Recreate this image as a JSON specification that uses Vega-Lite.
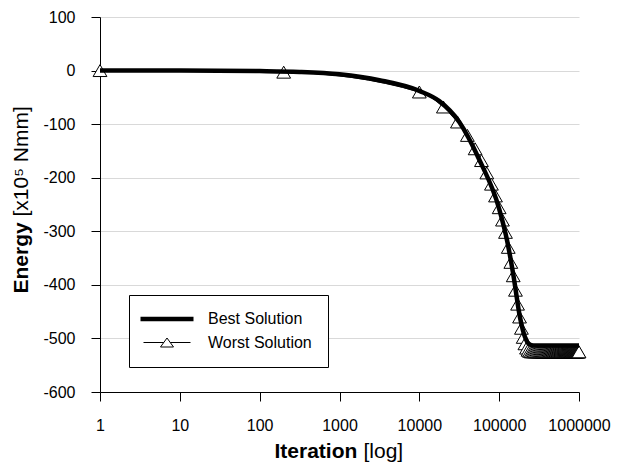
{
  "$schema": "https://vega.github.io/schema/vega-lite/v6.json",
  "width": 479,
  "height": 375,
  "autosize": "none",
  "padding": {"left": 100, "top": 17, "right": 43, "bottom": 72},
  "background": "white",
  "config": {
    "view": {"stroke": null},
    "font": "Liberation Sans",
    "axis": {"labelFont": "Liberation Sans", "titleFont": "Liberation Sans", "labelColor": "black", "titleColor": "black", "domainColor": "black", "tickColor": "black"}
  },
  "datasets": {
    "best": [
      {"it": 1, "energy": 0, "series": "Best Solution"},
      {"it": 10, "energy": 0, "series": "Best Solution"},
      {"it": 100, "energy": -1, "series": "Best Solution"},
      {"it": 316, "energy": -2.5, "series": "Best Solution"},
      {"it": 1000, "energy": -7, "series": "Best Solution"},
      {"it": 3162, "energy": -18, "series": "Best Solution"},
      {"it": 10000, "energy": -38, "series": "Best Solution"},
      {"it": 17783, "energy": -57, "series": "Best Solution"},
      {"it": 31623, "energy": -96, "series": "Best Solution"},
      {"it": 56234, "energy": -166, "series": "Best Solution"},
      {"it": 100000, "energy": -258, "series": "Best Solution"},
      {"it": 126000, "energy": -318, "series": "Best Solution"},
      {"it": 150000, "energy": -380, "series": "Best Solution"},
      {"it": 183000, "energy": -462, "series": "Best Solution"},
      {"it": 210000, "energy": -497, "series": "Best Solution"},
      {"it": 235000, "energy": -510, "series": "Best Solution"},
      {"it": 270000, "energy": -513, "series": "Best Solution"},
      {"it": 1000000, "energy": -513, "series": "Best Solution"}
    ],
    "worst": [
      {"it": 1, "energy": 0, "series": "Worst Solution"},
      {"it": 200, "energy": -3, "series": "Worst Solution"},
      {"it": 10000, "energy": -40, "series": "Worst Solution"},
      {"it": 20000, "energy": -68, "series": "Worst Solution"},
      {"it": 30000, "energy": -96, "series": "Worst Solution"},
      {"it": 40000, "energy": -121, "series": "Worst Solution"},
      {"it": 50000, "energy": -146, "series": "Worst Solution"},
      {"it": 60000, "energy": -168, "series": "Worst Solution"},
      {"it": 70000, "energy": -191, "series": "Worst Solution"},
      {"it": 80000, "energy": -212, "series": "Worst Solution"},
      {"it": 90000, "energy": -234, "series": "Worst Solution"},
      {"it": 100000, "energy": -256, "series": "Worst Solution"},
      {"it": 110000, "energy": -279, "series": "Worst Solution"},
      {"it": 120000, "energy": -302, "series": "Worst Solution"},
      {"it": 130000, "energy": -330, "series": "Worst Solution"},
      {"it": 140000, "energy": -358, "series": "Worst Solution"},
      {"it": 150000, "energy": -383, "series": "Worst Solution"},
      {"it": 160000, "energy": -410, "series": "Worst Solution"},
      {"it": 170000, "energy": -436, "series": "Worst Solution"},
      {"it": 180000, "energy": -460, "series": "Worst Solution"},
      {"it": 190000, "energy": -481, "series": "Worst Solution"},
      {"it": 200000, "energy": -498, "series": "Worst Solution"},
      {"it": 210000, "energy": -510, "series": "Worst Solution"},
      {"it": 220000, "energy": -518, "series": "Worst Solution"},
      {"it": 230000, "energy": -522, "series": "Worst Solution"},
      {"it": 240000, "energy": -524, "series": "Worst Solution"},
      {"it": 250000, "energy": -525, "series": "Worst Solution"},
      {"it": 260000, "energy": -525, "series": "Worst Solution"},
      {"it": 270000, "energy": -525, "series": "Worst Solution"},
      {"it": 280000, "energy": -525, "series": "Worst Solution"},
      {"it": 290000, "energy": -525, "series": "Worst Solution"},
      {"it": 300000, "energy": -525, "series": "Worst Solution"},
      {"it": 310000, "energy": -525, "series": "Worst Solution"},
      {"it": 320000, "energy": -525, "series": "Worst Solution"},
      {"it": 330000, "energy": -525, "series": "Worst Solution"},
      {"it": 340000, "energy": -525, "series": "Worst Solution"},
      {"it": 350000, "energy": -525, "series": "Worst Solution"},
      {"it": 360000, "energy": -525, "series": "Worst Solution"},
      {"it": 370000, "energy": -525, "series": "Worst Solution"},
      {"it": 380000, "energy": -525, "series": "Worst Solution"},
      {"it": 390000, "energy": -525, "series": "Worst Solution"},
      {"it": 400000, "energy": -525, "series": "Worst Solution"},
      {"it": 410000, "energy": -525, "series": "Worst Solution"},
      {"it": 420000, "energy": -525, "series": "Worst Solution"},
      {"it": 430000, "energy": -525, "series": "Worst Solution"},
      {"it": 440000, "energy": -525, "series": "Worst Solution"},
      {"it": 450000, "energy": -525, "series": "Worst Solution"},
      {"it": 460000, "energy": -525, "series": "Worst Solution"},
      {"it": 470000, "energy": -525, "series": "Worst Solution"},
      {"it": 480000, "energy": -525, "series": "Worst Solution"},
      {"it": 490000, "energy": -525, "series": "Worst Solution"},
      {"it": 500000, "energy": -525, "series": "Worst Solution"},
      {"it": 510000, "energy": -525, "series": "Worst Solution"},
      {"it": 520000, "energy": -525, "series": "Worst Solution"},
      {"it": 530000, "energy": -525, "series": "Worst Solution"},
      {"it": 540000, "energy": -525, "series": "Worst Solution"},
      {"it": 550000, "energy": -525, "series": "Worst Solution"},
      {"it": 560000, "energy": -525, "series": "Worst Solution"},
      {"it": 570000, "energy": -525, "series": "Worst Solution"},
      {"it": 580000, "energy": -525, "series": "Worst Solution"},
      {"it": 590000, "energy": -525, "series": "Worst Solution"},
      {"it": 600000, "energy": -525, "series": "Worst Solution"},
      {"it": 610000, "energy": -525, "series": "Worst Solution"},
      {"it": 620000, "energy": -525, "series": "Worst Solution"},
      {"it": 630000, "energy": -525, "series": "Worst Solution"},
      {"it": 640000, "energy": -525, "series": "Worst Solution"},
      {"it": 650000, "energy": -525, "series": "Worst Solution"},
      {"it": 660000, "energy": -525, "series": "Worst Solution"},
      {"it": 670000, "energy": -525, "series": "Worst Solution"},
      {"it": 680000, "energy": -525, "series": "Worst Solution"},
      {"it": 690000, "energy": -525, "series": "Worst Solution"},
      {"it": 700000, "energy": -525, "series": "Worst Solution"},
      {"it": 710000, "energy": -525, "series": "Worst Solution"},
      {"it": 720000, "energy": -525, "series": "Worst Solution"},
      {"it": 730000, "energy": -525, "series": "Worst Solution"},
      {"it": 740000, "energy": -525, "series": "Worst Solution"},
      {"it": 750000, "energy": -525, "series": "Worst Solution"},
      {"it": 760000, "energy": -525, "series": "Worst Solution"},
      {"it": 770000, "energy": -525, "series": "Worst Solution"},
      {"it": 780000, "energy": -525, "series": "Worst Solution"},
      {"it": 790000, "energy": -525, "series": "Worst Solution"},
      {"it": 800000, "energy": -525, "series": "Worst Solution"},
      {"it": 810000, "energy": -525, "series": "Worst Solution"},
      {"it": 820000, "energy": -525, "series": "Worst Solution"},
      {"it": 830000, "energy": -525, "series": "Worst Solution"},
      {"it": 840000, "energy": -525, "series": "Worst Solution"},
      {"it": 850000, "energy": -525, "series": "Worst Solution"},
      {"it": 860000, "energy": -525, "series": "Worst Solution"},
      {"it": 870000, "energy": -525, "series": "Worst Solution"},
      {"it": 880000, "energy": -525, "series": "Worst Solution"},
      {"it": 890000, "energy": -525, "series": "Worst Solution"},
      {"it": 900000, "energy": -525, "series": "Worst Solution"},
      {"it": 910000, "energy": -525, "series": "Worst Solution"},
      {"it": 920000, "energy": -525, "series": "Worst Solution"},
      {"it": 930000, "energy": -525, "series": "Worst Solution"},
      {"it": 940000, "energy": -525, "series": "Worst Solution"},
      {"it": 950000, "energy": -525, "series": "Worst Solution"},
      {"it": 960000, "energy": -525, "series": "Worst Solution"},
      {"it": 970000, "energy": -525, "series": "Worst Solution"},
      {"it": 980000, "energy": -525, "series": "Worst Solution"},
      {"it": 990000, "energy": -525, "series": "Worst Solution"},
      {"it": 1000000, "energy": -525, "series": "Worst Solution"}
    ]
  },
  "layer": [
    {
      "data": {"name": "worst"},
      "mark": {"type": "line", "strokeWidth": 1, "interpolate": "monotone"},
      "encoding": {
        "x": {
          "field": "it", "type": "quantitative",
          "scale": {"type": "log", "domain": [1, 1000000], "nice": false},
          "axis": {
            "orient": "bottom",
            "values": [1, 10, 100, 1000, 10000, 100000, 1000000],
            "format": "d",
            "labelFlush": false,
            "labelOverlap": false,
            "labelBound": false,
            "grid": false,
            "tickSize": 9,
            "labelPadding": 16,
            "labelFontSize": 16,
            "title": "Iteration",
            "titleFontSize": 21,
            "titleFontWeight": "bold",
            "titleAlign": "left",
            "titleBaseline": "alphabetic",
            "titleX": 174,
            "titleY": 65
          }
        },
        "y": {
          "field": "energy", "type": "quantitative",
          "scale": {"domain": [-600, 100], "nice": false, "zero": false},
          "axis": {
            "orient": "left",
            "values": [-600, -500, -400, -300, -200, -100, 0, 100],
            "labelExpr": "replace(datum.label, '−', '-')",
            "labelFlush": false,
            "labelOverlap": false,
            "grid": true,
            "gridColor": "#d9d9d9",
            "gridWidth": 1,
            "tickSize": 9,
            "labelPadding": 16,
            "labelFontSize": 16,
            "title": "Energy",
            "titleFontSize": 21,
            "titleFontWeight": "bold",
            "titleAngle": -90,
            "titleAlign": "left",
            "titleBaseline": "alphabetic",
            "titleX": -73,
            "titleY": 276
          }
        },
        "color": {
          "field": "series", "type": "nominal",
          "scale": {"domain": ["Best Solution", "Worst Solution"], "range": ["black", "black"]},
          "legend": {
            "title": null,
            "orient": "none",
            "legendX": 29,
            "legendY": 278,
            "padding": 16,
            "strokeColor": "black",
            "fillColor": "white",
            "cornerRadius": 0,
            "labelFont": "Liberation Sans",
            "labelFontSize": 16,
            "labelColor": "black",
            "symbolSize": 100,
            "symbolOffset": 14,
            "labelOffset": 33,
            "rowPadding": 6.5,
            "encode": {
              "symbols": {
                "update": {
                  "shape": {"signal": "datum.value === 'Best Solution' ? 'M-5.3,0L5.3,0' : 'M-4.7,0L-0.65,0M0.65,0L4.7,0M0,-0.9L1.3,0.9L-1.3,0.9Z'"},
                  "strokeWidth": {"signal": "datum.value === 'Best Solution' ? 4.5 : 1"},
                  "stroke": {"value": "black"},
                  "fill": {"value": "white"},
                  "opacity": {"value": 1}
                }
              }
            }
          }
        }
      }
    },
    {
      "data": {"name": "worst"},
      "mark": {"type": "point", "shape": "triangle-up", "size": 190, "filled": true, "fill": "white", "stroke": "black", "strokeWidth": 1, "opacity": 1},
      "encoding": {
        "x": {
          "field": "it", "type": "quantitative",
          "axis": {
            "orient": "bottom", "labels": false, "ticks": false, "domain": false, "grid": false,
            "title": "[log]",
            "titleFontSize": 21,
            "titleFontWeight": "normal",
            "titleAlign": "left",
            "titleBaseline": "alphabetic",
            "titleX": 263,
            "titleY": 65
          }
        },
        "y": {
          "field": "energy", "type": "quantitative",
          "axis": {
            "orient": "left", "labels": false, "ticks": false, "domain": false, "grid": false,
            "title": "[x10⁵ Nmm]",
            "titleFontSize": 21,
            "titleFontWeight": "normal",
            "titleAngle": -90,
            "titleAlign": "left",
            "titleBaseline": "alphabetic",
            "titleX": -73,
            "titleY": 199
          }
        }
      }
    },
    {
      "data": {"name": "best"},
      "mark": {"type": "line", "strokeWidth": 4.5, "interpolate": "monotone"},
      "encoding": {
        "x": {"field": "it", "type": "quantitative", "axis": null},
        "y": {"field": "energy", "type": "quantitative", "axis": null},
        "color": {"field": "series", "type": "nominal"}
      }
    }
  ],
  "resolve": {"axis": {"x": "independent", "y": "independent"}}
}
